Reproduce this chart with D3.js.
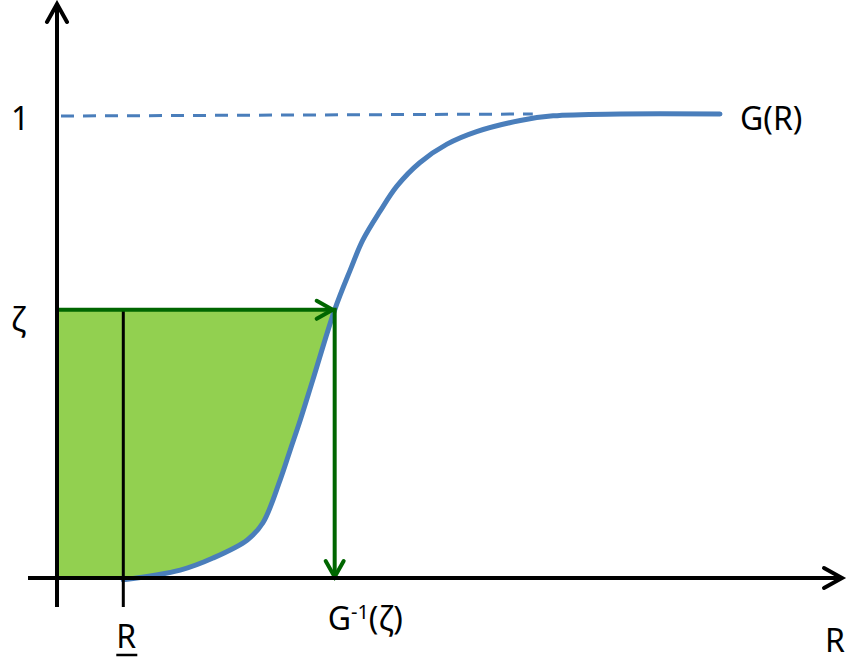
<!DOCTYPE html>
<html>
<head>
<meta charset="utf-8">
<script src="https://cdn.jsdelivr.net/npm/d3@7"></script>
<style>
    html, body { margin: 0; padding: 0; background: #fff; }
    svg text { font-family: "Noto Sans", "Open Sans", sans-serif; fill: #000; }
</style>
</head>
<body>
<div id="chart"></div>
<script>
// G(R) (R in arbitrary units, G in [0, 1])
const curveR = [8.5, 15.8, 20.0, 24.4, 26.4, 28.6, 29.9, 31.2, 32.8, 35.6, 37.6, 39.2, 41.4, 43.6, 46.5, 50.0, 53.8, 59.4, 63.6, 72.2, 85.0];
const curveG = [-0.004, 0.017, 0.043, 0.082, 0.119, 0.211, 0.276, 0.341, 0.427, 0.578, 0.664, 0.728, 0.790, 0.845, 0.895, 0.935, 0.962, 0.986, 0.996, 1.0, 1.0];

const zeta = 0.578;      // level ζ
const rStar = 35.6;      // G^-1(ζ)
const rLow = 8.5;        // R underlined
const dashEnd = 61;      // where the dashed "1" line stops

const width = 852;
const height = 662;

const x = d3.scaleLinear().domain([0, 100]).range([57, 837]);
const y = d3.scaleLinear().domain([0, 1]).range([578, 114]);

const blue = "#4a7ebb";
const darkGreen = "#006600";
const lightGreen = "#92d050";

const svg = d3.select("#chart")
    .append("svg")
    .attr("width", width)
    .attr("height", height);

const defs = svg.append("defs");

function chevron(id, color, len, half) {
    defs.append("marker")
        .attr("id", id)
        .attr("markerUnits", "userSpaceOnUse")
        .attr("viewBox", `0 0 ${len + 4} ${half * 2 + 4}`)
        .attr("refX", len + 1)
        .attr("refY", half + 2)
        .attr("markerWidth", len + 4)
        .attr("markerHeight", half * 2 + 4)
        .attr("orient", "auto")
        .style("overflow", "visible")
        .append("path")
        .attr("d", `M2,2 L${len + 1},${half + 2} L2,${half * 2 + 2}`)
        .attr("fill", "none")
        .attr("stroke", color)
        .attr("stroke-width", 4)
        .attr("stroke-linecap", "round")
        .attr("stroke-linejoin", "miter");
}
chevron("arrow-black", "#000", 19, 10);
chevron("arrow-green", darkGreen, 17, 9);

const points = curveR.map((r, i) => ({ r: r, g: curveG[i] }));
const smooth = d3.curveCatmullRom.alpha(0.5);

// green region: between the ζ level and the curve, left of G^-1(ζ)
const fillPts = [{ r: 0, g: 0 }, { r: 4, g: 0 }].concat(points.filter(d => d.g <= zeta + 1e-9));
const area = d3.area()
    .x(d => x(d.r))
    .y0(y(zeta))
    .y1(d => y(Math.max(d.g, 0)))
    .curve(smooth);

svg.append("path")
    .datum(fillPts)
    .attr("d", area)
    .attr("fill", lightGreen);

// dashed line at G = 1
svg.append("line")
    .attr("x1", x(0) + 4)
    .attr("x2", x(dashEnd))
    .attr("y1", y(1) + 2)
    .attr("y2", y(1))
    .attr("stroke", blue)
    .attr("stroke-width", 3)
    .attr("stroke-dasharray", "13,9");

// G(R) curve
const line = d3.line()
    .x(d => x(d.r))
    .y(d => y(d.g))
    .curve(smooth);

svg.append("path")
    .datum(points)
    .attr("d", line)
    .attr("fill", "none")
    .attr("stroke", blue)
    .attr("stroke-width", 5)
    .attr("stroke-linecap", "round");

// vertical at R underlined
svg.append("line")
    .attr("x1", x(rLow))
    .attr("x2", x(rLow))
    .attr("y1", y(zeta))
    .attr("y2", y(0) + 29)
    .attr("stroke", "#000")
    .attr("stroke-width", 3);

// ζ -> G^-1(ζ) arrows
svg.append("line")
    .attr("x1", x(0))
    .attr("x2", x(rStar) - 2)
    .attr("y1", y(zeta))
    .attr("y2", y(zeta))
    .attr("stroke", darkGreen)
    .attr("stroke-width", 4)
    .attr("marker-end", "url(#arrow-green)");

svg.append("line")
    .attr("x1", x(rStar))
    .attr("x2", x(rStar))
    .attr("y1", y(zeta) - 2)
    .attr("y2", y(0) - 1)
    .attr("stroke", darkGreen)
    .attr("stroke-width", 4)
    .attr("marker-end", "url(#arrow-green)");

// axes
svg.append("line")
    .attr("x1", x(0))
    .attr("x2", x(0))
    .attr("y1", y(0) + 29)
    .attr("y2", 4)
    .attr("stroke", "#000")
    .attr("stroke-width", 4)
    .attr("marker-end", "url(#arrow-black)");

svg.append("line")
    .attr("x1", x(0) - 29)
    .attr("x2", 842)
    .attr("y1", y(0))
    .attr("y2", y(0))
    .attr("stroke", "#000")
    .attr("stroke-width", 4)
    .attr("marker-end", "url(#arrow-black)");

// labels
const fs = 32;
svg.append("text")
    .attr("x", 11)
    .attr("y", y(1) + 16)
    .attr("font-size", fs)
    .text("1");

svg.append("text")
    .attr("x", 11)
    .attr("y", y(zeta) + 21)
    .attr("font-size", fs)
    .text("ζ");

svg.append("text")
    .attr("x", x(85) + 20)
    .attr("y", y(1) + 16)
    .attr("font-size", fs)
    .text("G(R)");

const inv = svg.append("text")
    .attr("x", x(rStar) - 7)
    .attr("y", 630)
    .attr("font-size", fs);
inv.append("tspan").text("G");
inv.append("tspan").attr("font-size", 20).attr("dy", -11).text("-1");
inv.append("tspan").attr("dy", 11).text("(ζ)");

svg.append("text")
    .attr("x", x(rLow) + 3)
    .attr("y", 648)
    .attr("text-anchor", "middle")
    .attr("font-size", fs)
    .text("R");

svg.append("line")
    .attr("x1", x(rLow) - 7)
    .attr("x2", x(rLow) + 14)
    .attr("y1", 655)
    .attr("y2", 655)
    .attr("stroke", "#000")
    .attr("stroke-width", 2.5);

svg.append("text")
    .attr("x", 825)
    .attr("y", 652)
    .attr("font-size", fs)
    .text("R");
</script>
</body>
</html>
